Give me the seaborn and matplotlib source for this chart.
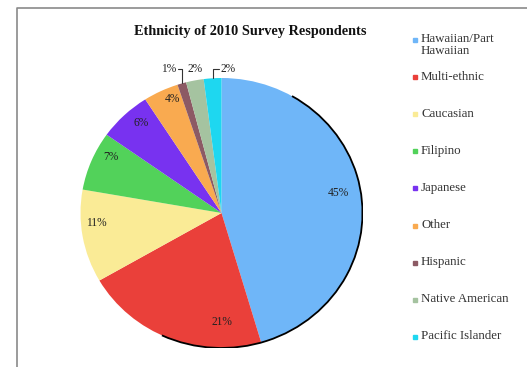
import numpy as np
import matplotlib
matplotlib.use('Agg')
import matplotlib.pyplot as plt
import matplotlib.patches as mpatches
from matplotlib.lines import Line2D
import seaborn as sns

sns.set_theme(style='white')
plt.rcParams['font.family'] = ['Liberation Serif', 'DejaVu Serif']

# 데이터
groups = ['Hawaiian/Part\nHawaiian', 'Multi-ethnic', 'Caucasian', 'Filipino', 'Japanese',
          'Other', 'Hispanic', 'Native American', 'Pacific Islander']
percents = [45, 21, 11, 7, 6, 4, 1, 2, 2]
colors = ['#6FB6F8', '#EA403A', '#FAEB96', '#52D25A', '#7832F0',
          '#F9AA50', '#8C5A64', '#A5C3A0', '#1ED7F0']

# 라벨 위치 보정 (각도 보정, 반지름) - 안쪽 라벨
inner_shift = [2, 22, -5, -5, -3, -3]
inner_r = [0.84, 0.81, 0.89, 0.89, 0.88, 0.91]
# 바깥 라벨: 가로 이동량 (0이면 지시선 없음)
outer_dx = [-0.03, 0.0, 0.045]

W, H = 527, 367
fig = plt.figure(figsize=(W / 100, H / 100), dpi=100)

# 바깥 테두리
fig.add_artist(Line2D([17 / W, 17 / W, 1.01], [-0.01, 1 - 8 / H, 1 - 8 / H],
                      transform=fig.transFigure, color='#8a8a8a', lw=1.2))

cx, cy, rx, ry = 221.5, 213, 141, 135
ax = fig.add_axes([(cx - rx) / W, 1 - (cy + ry) / H, 2 * rx / W, 2 * ry / H])
wedges, _ = ax.pie(percents, colors=colors, startangle=90, counterclock=False,
                   wedgeprops={'linewidth': 0})
ax.set_aspect('auto')
ax.set_xlim(-1, 1)
ax.set_ylim(-1, 1)
ax.axis('off')
ax.add_patch(mpatches.Arc((0, 0), 2, 2, theta1=-115, theta2=60, color='black', lw=1.3))

for i, w in enumerate(wedges):
    mid = (w.theta1 + w.theta2) / 2
    txt = f'{percents[i]}%'
    if i < len(inner_shift):
        a = np.deg2rad(mid + inner_shift[i])
        ax.text(inner_r[i] * np.cos(a), inner_r[i] * np.sin(a), txt,
                ha='center', va='center', fontsize=8.3, color='#222222')
    else:
        dx = outer_dx[i - len(inner_shift)]
        a = np.deg2rad(mid)
        x0, y0 = np.cos(a), np.sin(a)
        ty = 1.065
        if dx == 0:
            ax.text(x0, ty, txt, ha='center', va='center', fontsize=8.3, color='#222222')
        else:
            ax.plot([x0, x0, x0 + dx], [y0, ty, ty], color='#333333', lw=0.8, clip_on=False)
            ax.text(x0 + dx + np.sign(dx) * 0.008, ty, txt, ha='left' if dx > 0 else 'right',
                    va='center', fontsize=8.3, color='#222222')

fig.text(250 / W, 1 - 31 / H, 'Ethnicity of 2010 Survey Respondents',
         ha='center', va='center', fontsize=10.3, fontweight='bold', color='#111111')

# 범례 (수동)
lg_top, lg_step = 40, 37.1
for i, g in enumerate(groups):
    y = lg_top + i * lg_step
    fig.add_artist(Line2D([415 / W], [1 - y / H], marker='s', markersize=3.5,
                          color=colors[i], transform=fig.transFigure, lw=0))
    fig.text(421 / W, 1 - (y - 6.5) / H, g, ha='left', va='top', fontsize=9.3,
             color='#333333', linespacing=1.0)

fig.savefig('out.png', dpi=100)
